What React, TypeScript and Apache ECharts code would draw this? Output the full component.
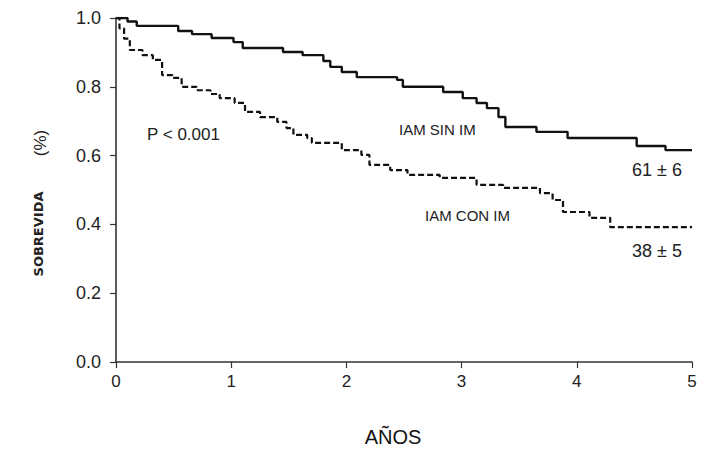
import React, { useEffect, useRef } from "react";
import * as echarts from "echarts";

const sinTimes = [0, 0.1, 0.18, 0.54, 0.66, 0.83, 1.02, 1.1, 1.45, 1.62, 1.8, 1.86, 1.96, 2.09, 2.44, 2.49, 2.84, 3.01, 3.13, 3.22, 3.32, 3.38, 3.65, 3.92, 4.52, 4.77, 5.0];
const sinSurv = [1.0, 0.99, 0.977, 0.962, 0.953, 0.942, 0.93, 0.913, 0.901, 0.892, 0.875, 0.858, 0.843, 0.828, 0.82, 0.8, 0.785, 0.767, 0.753, 0.738, 0.712, 0.683, 0.669, 0.651, 0.628, 0.616, 0.616];

const conTimes = [0, 0.03, 0.07, 0.12, 0.23, 0.32, 0.4, 0.49, 0.57, 0.7, 0.82, 0.9, 1.03, 1.12, 1.25, 1.4, 1.48, 1.54, 1.66, 1.7, 1.96, 2.13, 2.2, 2.38, 2.53, 2.81, 3.13, 3.36, 3.68, 3.79, 3.88, 4.11, 4.29, 5.0];
const conSurv = [1.0, 0.97, 0.94, 0.907, 0.892, 0.878, 0.834, 0.826, 0.8, 0.79, 0.779, 0.767, 0.753, 0.727, 0.712, 0.698, 0.68, 0.66, 0.651, 0.637, 0.616, 0.602, 0.573, 0.558, 0.544, 0.535, 0.515, 0.506, 0.491, 0.471, 0.436, 0.419, 0.392, 0.392];

const xTicks = [0, 1, 2, 3, 4, 5];
const yTicks = [0, 0.2, 0.4, 0.6, 0.8, 1.0];

const FONT = "'Liberation Sans', Arial, sans-serif";

export default function App() {
  const ref = useRef<HTMLDivElement>(null);
  useEffect(() => {
    document.body.style.margin = "0";
    if (!ref.current) return;
    const chart = echarts.init(ref.current, undefined, { renderer: "svg" });
    const pairs = (t: number[], v: number[]) => t.map((x, i) => [x, v[i]]);
    chart.setOption({
      animation: false,
      backgroundColor: "#ffffff",
      grid: { left: 116, right: 19, top: 18, bottom: 88, containLabel: false },
      xAxis: {
        type: "value",
        min: xTicks[0],
        max: xTicks[xTicks.length - 1],
        interval: 1,
        axisLine: { show: true, lineStyle: { color: "#333", width: 1.6 } },
        axisTick: { show: true, length: 6, lineStyle: { color: "#333", width: 1.2 } },
        axisLabel: { color: "#222", fontSize: 17, fontFamily: FONT, margin: 11 },
        splitLine: { show: false },
      },
      yAxis: {
        type: "value",
        min: yTicks[0],
        max: yTicks[yTicks.length - 1],
        interval: 0.2,
        axisLine: { show: true, lineStyle: { color: "#333", width: 1.6 } },
        axisTick: { show: true, length: 6, lineStyle: { color: "#333", width: 1.2 } },
        axisLabel: {
          color: "#222",
          fontSize: 18,
          fontFamily: FONT,
          margin: 15,
          formatter: (v: number) => v.toFixed(1),
        },
        splitLine: { show: false },
      },
      series: [
        {
          name: "IAM SIN IM",
          type: "line",
          step: "end",
          showSymbol: false,
          data: pairs(sinTimes, sinSurv),
          lineStyle: { color: "#111", width: 2.4 },
          z: 3,
        },
        {
          name: "IAM CON IM",
          type: "line",
          step: "end",
          showSymbol: false,
          data: pairs(conTimes, conSurv),
          lineStyle: { color: "#111", width: 2.2, type: [6, 3] },
          z: 3,
        },
      ],
      graphic: [
        { type: "text", x: 147, y: 134, style: { text: "P < 0.001", fill: "#222", font: `17px ${FONT}`, textVerticalAlign: "middle" } },
        { type: "text", x: 399, y: 129, style: { text: "IAM SIN IM", fill: "#222", font: `15px ${FONT}`, textVerticalAlign: "middle" } },
        { type: "text", x: 632, y: 170, style: { text: "61 ± 6", fill: "#222", font: `18px ${FONT}`, textVerticalAlign: "middle" } },
        { type: "text", x: 425, y: 215, style: { text: "IAM CON IM", fill: "#222", font: `15px ${FONT}`, textVerticalAlign: "middle" } },
        { type: "text", x: 632, y: 251, style: { text: "38 ± 5", fill: "#222", font: `18px ${FONT}`, textVerticalAlign: "middle" } },
        { type: "text", x: 393, y: 437, style: { text: "AÑOS", fill: "#111", font: `20px ${FONT}`, textAlign: "center", textVerticalAlign: "middle" } },
        { type: "text", x: 40, y: 143, rotation: Math.PI / 2, style: { text: "(%)", fill: "#222", font: `17px ${FONT}`, textAlign: "center", textVerticalAlign: "middle" } },
        { type: "text", x: 38, y: 234, rotation: Math.PI / 2, style: { text: "SOBREVIDA", fill: "#222", font: "bold 13px 'DejaVu Sans', sans-serif", textAlign: "center", textVerticalAlign: "middle" } },
      ],
    });
    return () => chart.dispose();
  }, []);
  return <div ref={ref} style={{ width: 711, height: 450 }} />;
}
